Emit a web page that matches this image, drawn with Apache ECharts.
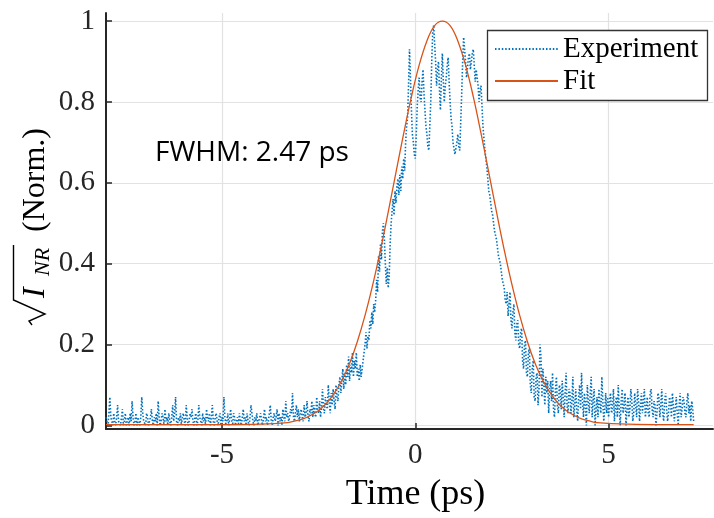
<!DOCTYPE html>
<html><head><meta charset="utf-8">
<script src="https://cdn.jsdelivr.net/npm/echarts@6/dist/echarts.min.js"></script>
<style>html,body{margin:0;padding:0;background:#fff}#c{width:714px;height:518px}</style>
</head><body><div id="c"></div>
<script>
// sampling grid of the measurement (ps)
const timeStart = -8.0;
const timeStep = 0.025;
const experiment = [
  0.02,0.01,0.00,0.03,0.07,0.02,0.01,0.00,0.03,0.01,0.00,0.02,0.05,0.01,0.01,0.00,0.02,0.04,0.00,0.01,
  0.03,0.00,0.01,0.02,0.00,0.03,0.01,0.06,0.02,0.00,0.01,0.03,0.00,0.02,0.01,0.00,0.02,0.07,0.03,0.01,
  0.01,0.00,0.03,0.02,0.00,0.01,0.02,0.04,0.01,0.00,0.02,0.01,0.03,0.00,0.06,0.02,0.00,0.01,0.03,0.02,
  0.00,0.04,0.01,0.02,0.00,0.03,0.01,0.00,0.02,0.05,0.01,0.03,0.07,0.01,0.00,0.02,0.01,0.03,0.00,0.02,
  0.03,0.01,0.00,0.05,0.02,0.00,0.01,0.03,0.02,0.04,0.01,0.00,0.02,0.03,0.00,0.01,0.05,0.02,0.01,0.00,
  0.03,0.01,0.02,0.00,0.04,0.02,0.01,0.03,0.00,0.02,0.05,0.01,0.00,0.02,0.03,0.01,0.00,0.02,0.03,0.00,
  0.02,0.01,0.07,0.02,0.00,0.01,0.03,0.00,0.02,0.04,0.01,0.00,0.03,0.02,0.00,0.01,0.02,0.00,0.03,0.01,
  0.00,0.02,0.04,0.01,0.02,0.00,0.03,0.01,0.00,0.02,0.05,0.03,0.01,0.00,0.02,0.01,0.03,0.00,0.01,0.02,
  0.03,0.01,0.00,0.02,0.04,0.01,0.02,0.00,0.01,0.03,0.05,0.01,0.00,0.02,0.03,0.01,0.02,0.04,0.00,0.03,
  0.01,0.02,0.00,0.04,0.02,0.01,0.06,0.02,0.03,0.01,0.02,0.04,0.03,0.08,0.02,0.01,0.03,0.05,0.02,0.04,
  0.01,0.03,0.04,0.02,0.01,0.05,0.02,0.03,0.06,0.02,0.01,0.04,0.03,0.06,0.02,0.05,0.03,0.02,0.07,0.04,
  0.03,0.06,0.02,0.05,0.09,0.04,0.03,0.07,0.05,0.04,0.10,0.06,0.03,0.08,0.05,0.09,0.06,0.04,0.10,0.07,
  0.06,0.10,0.12,0.08,0.11,0.14,0.09,0.13,0.10,0.15,0.12,0.17,0.11,0.15,0.13,0.18,0.12,0.16,0.14,0.18,
  0.12,0.14,0.11,0.15,0.12,0.14,0.16,0.18,0.20,0.23,0.19,0.22,0.21,0.26,0.24,0.28,0.25,0.30,0.28,0.31,
  0.36,0.33,0.42,0.38,0.45,0.41,0.48,0.50,0.46,0.40,0.35,0.39,0.34,0.37,0.45,0.50,0.53,0.56,0.52,0.58,
  0.55,0.59,0.61,0.57,0.62,0.58,0.64,0.61,0.66,0.63,0.70,0.74,0.76,0.84,0.93,0.86,0.78,0.72,0.70,0.67,
  0.66,0.72,0.79,0.83,0.86,0.81,0.80,0.85,0.88,0.82,0.78,0.74,0.72,0.69,0.68,0.74,0.80,0.90,0.97,0.99,
  0.99,0.90,0.84,0.88,0.90,0.83,0.78,0.86,0.92,0.85,0.80,0.84,0.86,0.89,0.91,0.85,0.80,0.76,0.74,0.70,
  0.70,0.67,0.67,0.70,0.72,0.69,0.68,0.75,0.82,0.90,0.96,0.93,0.90,0.86,0.86,0.91,0.92,0.88,0.88,0.92,
  0.93,0.89,0.85,0.88,0.88,0.84,0.80,0.83,0.84,0.79,0.74,0.71,0.68,0.66,0.64,0.61,0.58,0.57,0.55,0.53,
  0.52,0.50,0.48,0.47,0.46,0.44,0.42,0.41,0.40,0.38,0.36,0.35,0.34,0.31,0.30,0.33,0.27,0.30,0.33,0.26,
  0.24,0.28,0.30,0.23,0.21,0.25,0.26,0.20,0.19,0.23,0.24,0.16,0.14,0.20,0.21,0.13,0.12,0.18,0.19,0.10,
  0.08,0.14,0.16,0.07,0.06,0.12,0.13,0.05,0.09,0.20,0.17,0.07,0.14,0.10,0.05,0.12,0.08,0.11,0.03,0.09,
  0.11,0.06,0.13,0.04,0.02,0.09,0.12,0.05,0.03,0.10,0.09,0.04,0.11,0.07,0.02,0.08,0.13,0.05,0.03,0.09,
  0.08,0.03,0.06,0.12,0.02,0.05,0.09,0.04,0.01,0.07,0.10,0.04,0.13,0.06,0.02,0.08,0.05,0.00,0.10,0.06,
  0.03,0.08,0.12,0.02,0.06,0.09,0.00,0.04,0.07,0.02,0.09,0.05,0.03,0.12,0.06,0.01,0.04,0.08,0.03,0.07,
  0.02,0.06,0.08,0.03,0.04,0.09,0.01,0.05,0.07,0.02,0.10,0.04,0.00,0.06,0.09,0.03,0.05,0.08,0.00,0.04,
  0.07,0.02,0.04,0.09,0.06,0.01,0.03,0.08,0.05,0.02,0.09,0.06,0.01,0.05,0.08,0.03,0.06,0.09,0.02,0.04,
  0.07,0.03,0.02,0.08,0.09,0.04,0.02,0.06,0.05,0.00,0.03,0.08,0.07,0.02,0.05,0.09,0.03,0.01,0.06,0.08,
  0.04,0.01,0.03,0.07,0.06,0.02,0.08,0.05,0.01,0.04,0.07,0.03,0.00,0.05,0.08,0.02,0.04,0.07,0.06,0.03,
  0.02,0.06,0.08,0.03,0.05,0.01,0.06,0.04,0.01
];
// fitted curve
const fitTime = [-8,-6,-5,-4,-3.3,-3.1,-2.9,-2.7,-2.5,-2.3,-2.1,-1.9,-1.7,-1.5,-1.3,-1.1,-0.9,-0.7,-0.5,-0.3,-0.1,
  0.1,0.3,0.5,0.7,0.9,1.1,1.3,1.5,1.7,1.9,2.1,2.3,2.5,2.7,2.9,3.1,3.3,3.5,3.7,3.9,4.1,4.3,4.5,4.7,5.5,6.5,7.2];
const fitValues = [0.002,0.002,0.002,0.003,0.007,0.011,0.016,0.025,0.037,0.054,0.079,0.111,0.153,0.207,0.272,0.348,0.434,0.528,0.626,0.722,0.813,
  0.891,0.951,0.989,1.0,0.989,0.951,0.891,0.813,0.722,0.626,0.528,0.434,0.348,0.272,0.207,0.153,0.111,0.079,0.054,0.037,0.025,0.016,0.011,0.007,0.003,0.002,0.002];
const xTicks = [-5, 0, 5];
const yTicks = [0, 0.2, 0.4, 0.6, 0.8, 1];
const seriesNames = ['Experiment', 'Fit'];
const xTitle = 'Time (ps)';
const annotation = 'FWHM: 2.47 ps';

const expData = experiment.map((v, i) => [+(timeStart + i * timeStep).toFixed(3), v]);
const fitData = fitTime.map((t, i) => [t, fitValues[i]]);

const SERIF = '"Liberation Serif", "Times New Roman", serif';
const AX = '#262626';
const chart = echarts.init(document.getElementById('c'), null, {renderer: 'canvas'});
chart.setOption({
  animation: false,
  backgroundColor: '#fff',
  grid: {left: 106, right: 1, top: 13, bottom: 86, containLabel: false},
  xAxis: {
    type: 'value', min: -8, max: 7.7,
    name: xTitle, nameLocation: 'middle', nameGap: 48,
    nameTextStyle: {fontFamily: SERIF, fontSize: 36, color: '#000', padding: [0, 0, 0, 12]},
    axisLine: {show: true, onZero: false, lineStyle: {color: AX, width: 2}},
    axisTick: {show: true, inside: true, length: 6, customValues: xTicks, lineStyle: {color: AX, width: 1.5}},
    axisLabel: {customValues: xTicks, fontFamily: SERIF, fontSize: 29, color: '#262626', margin: 12},
    splitLine: {show: true, lineStyle: {color: '#e2e2e2', width: 1.2}}
  },
  yAxis: {
    type: 'value', min: -0.009, max: 1.02,
    axisLine: {show: true, onZero: false, lineStyle: {color: AX, width: 2}},
    axisTick: {show: true, inside: true, length: 6, customValues: yTicks, lineStyle: {color: AX, width: 1.5}},
    axisLabel: {customValues: yTicks, fontFamily: SERIF, fontSize: 29, color: '#262626', margin: 11,
      formatter: v => String(v)},
    splitLine: {show: true, lineStyle: {color: '#e2e2e2', width: 1.2}}
  },
  legend: {
    data: seriesNames, orient: 'vertical', left: 494, top: 33, padding: 0,
    itemWidth: 63, itemHeight: 12, itemGap: 0, itemTextGap: 6, z: 6,
    itemStyle: {color: 'transparent', borderWidth: 0, opacity: 0},
    textStyle: {fontFamily: SERIF, fontSize: 29, lineHeight: 32, color: '#000'}
  },
  graphic: [
    {type: 'rect', z: 5, shape: {x: 487.5, y: 30.5, width: 220, height: 70},
     style: {fill: '#fff', stroke: '#333', lineWidth: 1.3}},
    {type: 'text', left: 155, top: 139, z: 5,
     style: {text: annotation, font: '28px "Open Sans", sans-serif', fill: '#000'}},
    {type: 'group', x: 45, y: 325, rotation: Math.PI / 2, z: 5, children: [
      {type: 'polyline', shape: {points: [[0, -13], [4, -16], [11, 0], [25, -31.5], [80, -31.5]]},
       style: {stroke: '#000', lineWidth: 1.4, fill: null}},
      {type: 'text', x: 27, y: 7, style: {text: 'I', font: 'italic 32px "Liberation Serif", serif', fill: '#000', verticalAlign: 'bottom'}},
      {type: 'text', x: 49, y: 9, style: {text: 'NR', font: 'italic 22px "Liberation Serif", serif', fill: '#000', verticalAlign: 'bottom'}},
      {type: 'text', x: 93, y: 7, style: {text: '(Norm.)', font: '32px "Liberation Serif", serif', fill: '#000', verticalAlign: 'bottom'}}
    ]}
  ],
  series: [
    {name: seriesNames[0], type: 'line', data: expData, showSymbol: false, symbol: 'none', z: 2,
     lineStyle: {color: '#0072BD', width: 1.6, type: [1.5, 1.9]}, itemStyle: {color: '#0072BD'}},
    {name: seriesNames[1], type: 'line', data: fitData, showSymbol: false, symbol: 'none', smooth: 0.4, z: 3,
     lineStyle: {color: '#D95319', width: 1.3}, itemStyle: {color: '#D95319'}}
  ]
});
</script></body></html>
